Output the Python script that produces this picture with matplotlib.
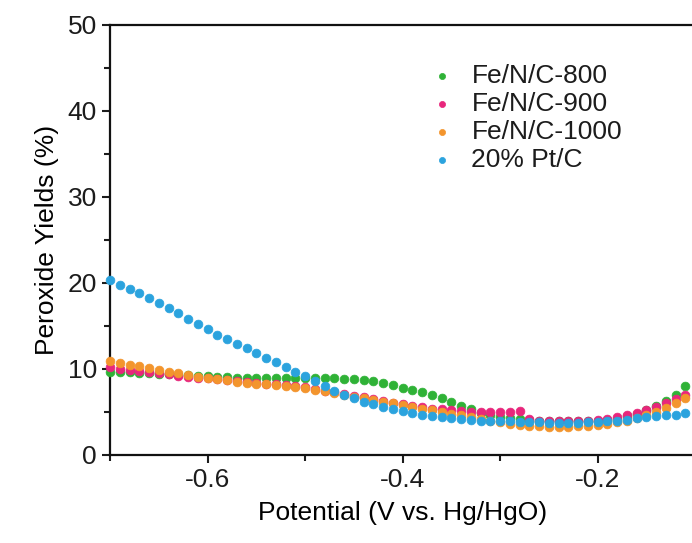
import numpy as np
import matplotlib
matplotlib.use("Agg")
import matplotlib.pyplot as plt
from matplotlib.ticker import MultipleLocator

plt.rcParams['font.family'] = ['Liberation Sans', 'DejaVu Sans']
plt.rcParams['text.color'] = '#1c1c1c'
plt.rcParams['xtick.color'] = '#1c1c1c'
plt.rcParams['ytick.color'] = '#1c1c1c'

# potential grid (V vs. Hg/HgO), one point every 10 mV
potential = [-0.70, -0.69, -0.68, -0.67, -0.66, -0.65, -0.64, -0.63, -0.62, -0.61,
             -0.60, -0.59, -0.58, -0.57, -0.56, -0.55, -0.54, -0.53, -0.52, -0.51,
             -0.50, -0.49, -0.48, -0.47, -0.46, -0.45, -0.44, -0.43, -0.42, -0.41,
             -0.40, -0.39, -0.38, -0.37, -0.36, -0.35, -0.34, -0.33, -0.32, -0.31,
             -0.30, -0.29, -0.28, -0.27, -0.26, -0.25, -0.24, -0.23, -0.22, -0.21,
             -0.20, -0.19, -0.18, -0.17, -0.16, -0.15, -0.14, -0.13, -0.12, -0.11]

fenc_800 = [9.6, 9.6, 9.6, 9.5, 9.5, 9.4, 9.4, 9.3, 9.3, 9.2,
            9.2, 9.1, 9.1, 9.0, 9.0, 8.9, 8.9, 8.9, 8.9, 8.9,
            8.9, 8.9, 8.9, 8.9, 8.8, 8.8, 8.7, 8.6, 8.4, 8.1,
            7.8, 7.6, 7.3, 7.0, 6.6, 6.2, 5.7, 5.3, 4.9, 4.6,
            4.4, 4.3, 4.2, 4.1, 4.0, 4.0, 3.9, 3.9, 3.9, 3.9,
            4.0, 4.1, 4.2, 4.5, 4.8, 5.2, 5.7, 6.3, 7.0, 8.0]

fenc_900 = [10.2, 10.0, 9.9, 9.8, 9.6, 9.5, 9.4, 9.2, 9.1, 9.0,
            8.9, 8.8, 8.7, 8.6, 8.5, 8.4, 8.3, 8.2, 8.1, 8.0,
            7.9, 7.7, 7.5, 7.3, 7.1, 6.9, 6.7, 6.5, 6.3, 6.1,
            5.9, 5.7, 5.6, 5.4, 5.3, 5.2, 5.1, 5.0, 5.0, 5.0,
            5.0, 5.0, 5.1, 4.2, 4.0, 3.9, 3.9, 3.9, 3.9, 4.0,
            4.1, 4.2, 4.4, 4.6, 4.9, 5.2, 5.6, 6.0, 6.5, 7.0]

fenc_1000 = [10.9, 10.7, 10.5, 10.3, 10.1, 9.9, 9.7, 9.5, 9.3, 9.1,
             9.0, 8.8, 8.7, 8.5, 8.4, 8.3, 8.2, 8.1, 8.0, 7.9,
             7.8, 7.6, 7.4, 7.2, 7.0, 6.8, 6.6, 6.4, 6.2, 6.0,
             5.8, 5.6, 5.4, 5.2, 5.0, 4.8, 4.6, 4.4, 4.2, 4.0,
             3.8, 3.6, 3.5, 3.4, 3.4, 3.3, 3.3, 3.3, 3.4, 3.4,
             3.5, 3.6, 3.8, 4.0, 4.3, 4.6, 5.0, 5.5, 6.0, 6.6]

ptc_20 = [20.3, 19.8, 19.3, 18.8, 18.2, 17.7, 17.1, 16.5, 15.8, 15.2,
          14.6, 14.0, 13.5, 12.9, 12.4, 11.9, 11.3, 10.8, 10.2, 9.7,
          9.2, 8.6, 8.0, 7.5, 7.0, 6.6, 6.2, 5.9, 5.6, 5.3,
          5.1, 4.9, 4.7, 4.5, 4.4, 4.3, 4.2, 4.1, 4.0, 4.0,
          3.9, 3.9, 3.8, 3.8, 3.8, 3.7, 3.7, 3.7, 3.7, 3.8,
          3.8, 3.9, 4.0, 4.1, 4.3, 4.4, 4.5, 4.6, 4.7, 4.9]

labels = ['Fe/N/C-800', 'Fe/N/C-900', 'Fe/N/C-1000', '20% Pt/C']
colors = ['#2fb236', '#e8267c', '#f3952d', '#2ba3de']
series = [fenc_800, fenc_900, fenc_1000, ptc_20]

fig = plt.figure(figsize=(6.92, 5.43), dpi=100)
ax = fig.add_axes([110 / 692, 88 / 543, 585 / 692, 430 / 543])

for y, c, lab in zip(series, colors, labels):
    ax.scatter(potential, y, s=40, color=c, edgecolors=c, linewidths=0.5,
               label=lab, zorder=3, clip_on=False)

ax.set_xlim(-0.70, -0.10)
ax.set_ylim(0, 50)
ax.xaxis.set_minor_locator(MultipleLocator(0.1))
ax.yaxis.set_major_locator(MultipleLocator(10))
ax.yaxis.set_minor_locator(MultipleLocator(5))
ax.set_xticks([-0.6, -0.4, -0.2])
ax.set_xticklabels(['-0.6', '-0.4', '-0.2'])

for side in ['left', 'bottom', 'top']:
    ax.spines[side].set_linewidth(1.6)
    ax.spines[side].set_color('#111111')
ax.spines['right'].set_visible(False)
ax.tick_params(which='both', direction='out', width=1.5, labelsize=19, top=False, right=False)
ax.tick_params(which='major', length=6)
ax.tick_params(which='minor', length=4)

ax.set_xlabel('Potential (V vs. Hg/HgO)', fontsize=19, labelpad=6)
ax.set_ylabel('Peroxide Yields (%)', fontsize=19, labelpad=6)

ax.legend(loc='upper left', bbox_to_anchor=(416 / 692, 1 - 51 / 543), bbox_transform=fig.transFigure,
          frameon=False, fontsize=19, handletextpad=0.6, labelspacing=0.15, borderpad=0,
          handlelength=1.0, markerscale=0.7)

fig.savefig('out.png', dpi=100)
